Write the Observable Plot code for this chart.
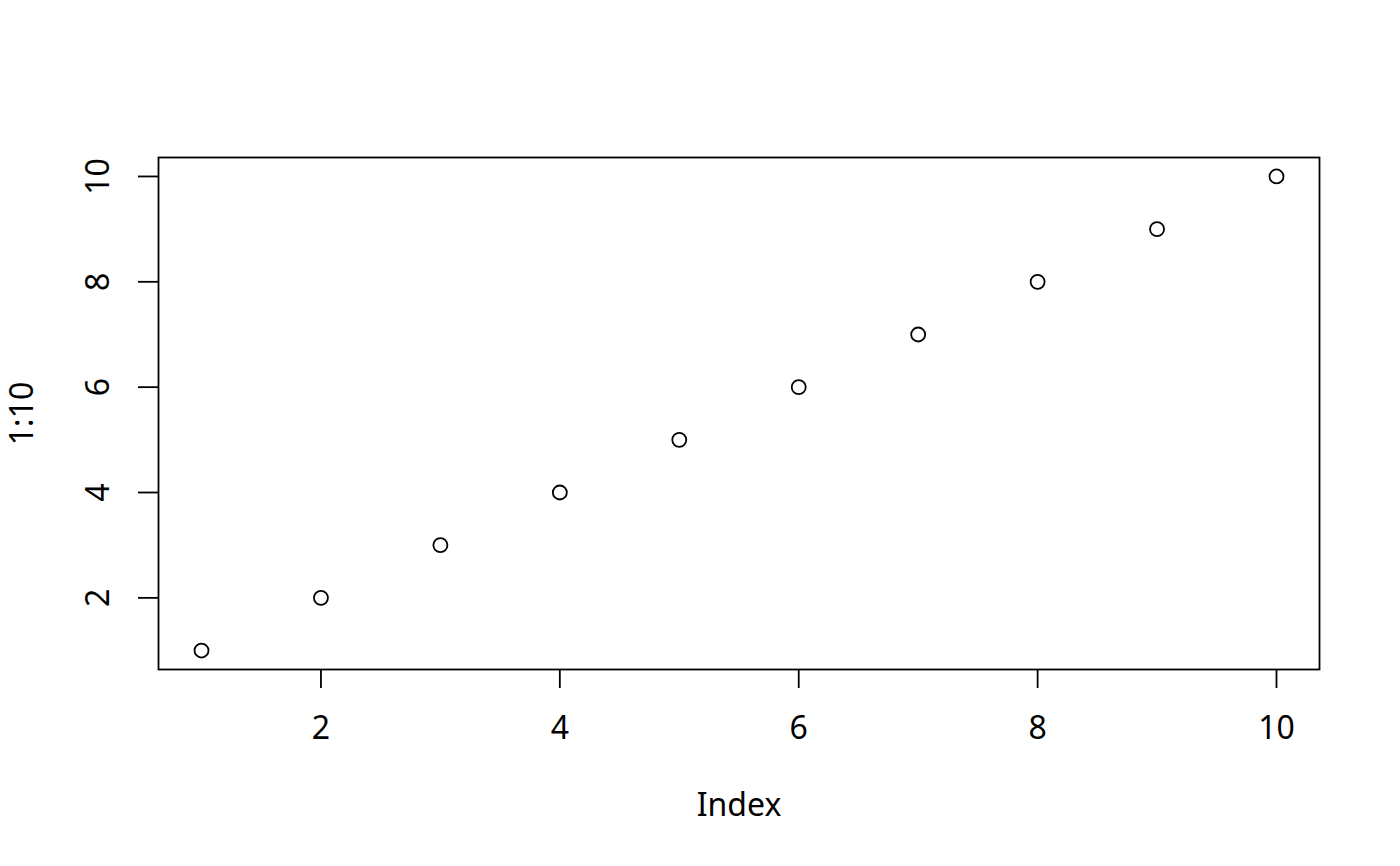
<!DOCTYPE html>
<html>
<head>
<meta charset="utf-8">
<script src="https://cdn.jsdelivr.net/npm/d3@7"></script>
<script src="https://cdn.jsdelivr.net/npm/@observablehq/plot@0.6"></script>
<style>
  body { margin: 0; background: white; }
</style>
</head>
<body>
<div id="chart"></div>
<script>
// datos: plot(1:10)
const index = [1, 2, 3, 4, 5, 6, 7, 8, 9, 10]
const values = [1, 2, 3, 4, 5, 6, 7, 8, 9, 10]
const xTicks = [2, 4, 6, 8, 10]
const yTicks = [2, 4, 6, 8, 10]
const xTitle = "Index"
const yTitle = "1:10"

const data = index.map((d, i) => ({index: d, value: values[i]}))

let chart = Plot.plot({
  width: 1400,
  height: 866,
  marginLeft: 158,
  marginRight: 81,
  marginTop: 157,
  marginBottom: 197,
  x: {domain: [0.64, 10.36]},
  y: {domain: [0.64, 10.36]},
  style: {
    fontFamily: "Noto Sans",
    fontSize: "32px",
    color: "black",
    background: "white",
  },
  marks: [
    Plot.frame({stroke: "black", strokeWidth: 1.8}),
    Plot.axisX({ticks: xTicks, tickSize: 19, tickPadding: 28, strokeWidth: 1.8, label: null, fontSize: 32}),
    Plot.axisY({ticks: yTicks, tickSize: 20, text: null, strokeWidth: 1.8, label: null}),
    // etiquetas del eje y giradas como en R
    Plot.text(yTicks, {y: d => d, text: d => String(d), frameAnchor: "left", dx: -60, rotate: -90, textAnchor: "middle", lineAnchor: "middle", fontSize: 32}),
    Plot.dot(data, {x: "index", y: "value", r: 7, stroke: "black", strokeWidth: 1.8, fill: "none"}),
    Plot.text([xTitle], {text: d => d, frameAnchor: "bottom", dy: 136, lineAnchor: "middle", fontSize: 32}),
    Plot.text([yTitle], {text: d => d, frameAnchor: "left", dx: -136, rotate: -90, lineAnchor: "middle", textAnchor: "middle", fontSize: 32}),
  ],
})
d3.select('#chart').append(() => chart)
</script>
</body>
</html>
